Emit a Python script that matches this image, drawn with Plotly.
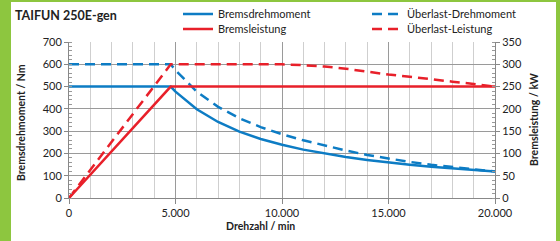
import plotly.graph_objects as go

# ---------------- data ----------------
speed = [0, 4775, 5000, 6000, 7000, 8000, 9000, 10000, 11000, 12000, 13000,
         14000, 15000, 16000, 17000, 18000, 19000, 20000]
brems_drehmoment = [500, 500, 477, 398, 341, 298, 265, 239, 217, 199, 184,
                    171, 159, 149, 140, 133, 126, 119]
brems_leistung = [0, 250, 250, 250, 250, 250, 250, 250, 250, 250, 250,
                  250, 250, 250, 250, 250, 250, 250]
ueberlast_drehmoment = [600, 600, 573, 477, 409, 358, 318, 286, 259, 235, 213,
                        193, 176, 162, 149, 138, 129, 119]
ueberlast_leistung = [0, 300, 300, 300, 300, 300, 300, 300, 298, 295, 290,
                      283, 277, 272, 266, 261, 256, 250]

x_ticks = [0, 5000, 10000, 15000, 20000]
x_tick_labels = ["0", "5.000", "10.000", "15.000", "20.000"]

title_text = "TAIFUN 250E-gen"
x_title = "Drehzahl / min"
y_title = "Bremsdrehmoment / Nm"
y2_title = "Bremsleistung / kW"

BLUE = "#0d7cc4"
RED = "#e8202a"
GREEN = "#8dc63f"
FONT = "Lato"

W, H = 560, 241
L, R, T, B = 69, 65, 42, 43
PW, PH = W - L - R, H - T - B


def px_x(p):
    return (p - L) / PW


def px_y(p):
    return (H - B - p) / PH


fig = go.Figure()

fig.add_trace(go.Scatter(x=speed, y=ueberlast_drehmoment, mode="lines",
                         name="Überlast-Drehmoment", legend="legend2",
                         line=dict(color=BLUE, width=2.5, dash="10px,6px")))
fig.add_trace(go.Scatter(x=speed, y=ueberlast_leistung, mode="lines", yaxis="y2",
                         name="Überlast-Leistung", legend="legend4",
                         line=dict(color=RED, width=2.5, dash="10px,6px")))
fig.add_trace(go.Scatter(x=speed, y=brems_drehmoment, mode="lines",
                         name="Bremsdrehmoment", legend="legend",
                         line=dict(color=BLUE, width=2.5)))
fig.add_trace(go.Scatter(x=speed, y=brems_leistung, mode="lines", yaxis="y2",
                         name="Bremsleistung", legend="legend3",
                         line=dict(color=RED, width=2.5)))

tickfont = dict(family=FONT, size=11, color="#222")


def leg(xp, yp):
    return dict(x=px_x(xp), y=px_y(yp), xanchor="left", yanchor="middle",
                orientation="v", bgcolor="rgba(0,0,0,0)", borderwidth=0,
                font=dict(family=FONT, size=11, color="#222"))


fig.update_layout(
    width=W, height=H,
    margin=dict(l=L, r=R, t=T, b=B, pad=0, autoexpand=False),
    paper_bgcolor="white", plot_bgcolor="white",
    font=dict(family=FONT, size=11, color="#222"),
    separators=",.",
    xaxis=dict(range=[0, 20000], tickvals=x_ticks, ticktext=x_tick_labels,
               showgrid=True, gridcolor="#9a9a9a", gridwidth=1,
               minor=dict(dtick=1000, showgrid=True, gridcolor="#cfcfcf",
                          ticks=""),
               ticks="outside", ticklen=5, tickcolor="#888",
               showline=True, linecolor="#888", linewidth=1, automargin=False,
               zeroline=False, tickfont=tickfont, fixedrange=True),
    yaxis=dict(range=[0, 700], dtick=100, showgrid=True, gridcolor="#9a9a9a",
               gridwidth=1, ticks="outside", ticklen=4, tickcolor="#888",
               minor=dict(dtick=20, ticks="inside", ticklen=3, tickcolor="#999"),
               showline=True, linecolor="#888", linewidth=1, zeroline=False,
               automargin=False, tickfont=tickfont, fixedrange=True),
    yaxis2=dict(range=[0, 350], dtick=50, overlaying="y", side="right",
                showgrid=False, ticks="outside", ticklen=4, tickcolor="#888",
                minor=dict(dtick=10, ticks="inside", ticklen=3, tickcolor="#999"),
                showline=True, linecolor="#888", linewidth=1, zeroline=False,
                automargin=False, tickfont=tickfont, fixedrange=True),
    legend=leg(178, 14),
    legend2=leg(367, 14),
    legend3=leg(178, 29),
    legend4=leg(367, 29),
    showlegend=True,
)

shapes = [
    dict(type="rect", xref="paper", yref="paper", x0=px_x(0), x1=px_x(11),
         y0=px_y(H), y1=px_y(0), fillcolor=GREEN, line=dict(width=0), layer="below"),
    dict(type="rect", xref="paper", yref="paper", x0=px_x(0), x1=px_x(W),
         y0=px_y(2), y1=px_y(0), fillcolor=GREEN, line=dict(width=0), layer="below"),
    dict(type="rect", xref="paper", yref="paper", x0=px_x(556), x1=px_x(W),
         y0=px_y(H), y1=px_y(0), fillcolor=GREEN, line=dict(width=0), layer="below"),
]
fig.update_layout(shapes=shapes)

annotations = [
    dict(text="<b>" + title_text + "</b>", xref="paper", yref="paper",
         x=px_x(13), y=px_y(16), xanchor="left", yanchor="middle",
         showarrow=False, font=dict(family=FONT, size=12.5, color="#222")),
    dict(text="<b>" + x_title + "</b>", xref="paper", yref="paper",
         x=px_x(260), y=px_y(226), xanchor="center", yanchor="middle",
         showarrow=False, font=dict(family=FONT, size=10.5, color="#222")),
    dict(text="<b>" + y_title + "</b>", xref="paper", yref="paper",
         x=px_x(21), y=px_y(123), xanchor="center", yanchor="middle",
         textangle=-90, showarrow=False,
         font=dict(family=FONT, size=10.5, color="#222")),
    dict(text="<b>" + y2_title + "</b>", xref="paper", yref="paper",
         x=px_x(534), y=px_y(120), xanchor="center", yanchor="middle",
         textangle=-90, showarrow=False,
         font=dict(family=FONT, size=10.5, color="#222")),
]
fig.update_layout(annotations=annotations)

fig.write_html("out.html",
               config={"displayModeBar": False},
               post_script="document.body.style.margin='0';"
                           "document.body.style.overflow='hidden';")
